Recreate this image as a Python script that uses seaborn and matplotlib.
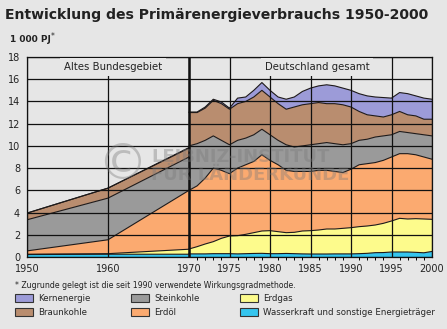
import numpy as np
import matplotlib
matplotlib.use("Agg")
import matplotlib.pyplot as plt
from matplotlib.patches import Patch
import seaborn as sns

# ---- data (1000 PJ) ----
years_west = [1950, 1960, 1970]
hydro_west = [0.22, 0.25, 0.25]
gas_west = [0.03, 0.05, 0.45]
oil_west = [0.30, 1.25, 5.30]
coal_west = [2.80, 3.75, 3.00]
lignite_west = [0.60, 0.90, 0.80]
nuclear_west = [0.00, 0.00, 0.05]

years_all = list(range(1970, 2001))
hydro_all = [0.28, 0.28, 0.28, 0.30, 0.30, 0.30, 0.28, 0.30, 0.32, 0.33,
             0.30, 0.30, 0.32, 0.30, 0.28, 0.27, 0.27, 0.27, 0.28, 0.28,
             0.28, 0.30, 0.33, 0.39, 0.40, 0.45, 0.45, 0.45, 0.42, 0.38, 0.50]
gas_all = [0.44, 0.65, 0.89, 1.08, 1.38, 1.59, 1.64, 1.74, 1.87, 2.01,
           2.07, 1.98, 1.87, 1.92, 2.06, 2.10, 2.16, 2.25, 2.24, 2.30,
           2.36, 2.43, 2.46, 2.49, 2.63, 2.79, 3.03, 2.97, 3.03, 3.04, 2.89]
oil_all = [5.28, 5.47, 5.93, 6.62, 6.12, 5.61, 6.08, 6.26, 6.41, 6.86,
           6.33, 6.02, 5.61, 5.48, 5.36, 5.33, 5.37, 5.28, 5.18, 5.02,
           5.26, 5.57, 5.61, 5.62, 5.67, 5.76, 5.82, 5.88, 5.75, 5.58, 5.41]
coal_all = [4.0, 3.8, 3.4, 2.9, 2.7, 2.6, 2.5, 2.4, 2.4, 2.3,
            2.3, 2.2, 2.3, 2.2, 2.3, 2.4, 2.4, 2.5, 2.5, 2.5,
            2.3, 2.2, 2.2, 2.3, 2.2, 2.0, 2.0, 1.9, 1.9, 2.0, 2.1]
lignite_all = [3.0, 2.8, 2.9, 3.2, 3.3, 3.2, 3.3, 3.3, 3.4, 3.5,
               3.4, 3.3, 3.2, 3.6, 3.7, 3.7, 3.7, 3.5, 3.6, 3.6,
               3.3, 2.6, 2.2, 1.9, 1.7, 1.8, 1.8, 1.6, 1.6, 1.4, 1.5]
nuclear_all = [0.05, 0.05, 0.10, 0.10, 0.15, 0.10, 0.50, 0.40, 0.60, 0.70,
               0.60, 0.60, 0.90, 0.90, 1.20, 1.40, 1.50, 1.70, 1.60, 1.50,
               1.50, 1.60, 1.70, 1.70, 1.75, 1.50, 1.70, 1.90, 1.80, 1.90, 1.80]

labels = ["Wasserkraft und sonstige Energieträger", "Erdgas", "Erdöl",
          "Steinkohle", "Braunkohle", "Kernenergie"]
colors = ["#35c5ee", "#fdfb8c", "#fbaa70", "#9a9a9a", "#b98d6f", "#9c9bd8"]
x_ticks = [1950, 1960, 1970, 1975, 1980, 1985, 1990, 1995, 2000]
y_ticks = list(range(0, 19, 2))

BG = "#e6e6e6"
sns.set_theme(style="white", rc={"axes.facecolor": BG, "figure.facecolor": BG})
plt.rcParams["font.family"] = ["DejaVu Sans"]

fig = plt.figure(figsize=(4.47, 3.29), dpi=100, facecolor=BG)
ax = fig.add_axes([27 / 447, 72 / 329, 405 / 447, 200 / 329])
ax.set_facecolor(BG)


def draw_period(years, series):
    tops = np.cumsum(np.array(series, dtype=float), axis=0)
    lower = np.zeros(len(years))
    for top, col in zip(tops, colors):
        ax.fill_between(years, lower, top, facecolor=col, edgecolor="none",
                        linewidth=0, zorder=1)
        lower = top
    for top in tops:
        sns.lineplot(x=years, y=top, color="#1e1a1a", linewidth=0.8, ax=ax,
                     zorder=2, legend=False)


draw_period(years_west, [hydro_west, gas_west, oil_west, coal_west,
                         lignite_west, nuclear_west])
draw_period(years_all, [hydro_all, gas_all, oil_all, coal_all,
                        lignite_all, nuclear_all])

ax.set_xlim(1950, 2000)
ax.set_ylim(0, 18)
ax.set_xticks(x_ticks)
ax.set_xticks(range(1970, 2001), minor=True)
ax.set_yticks(y_ticks)
ax.set_xticklabels([str(t) for t in x_ticks], fontsize=7)
ax.set_yticklabels([str(t) for t in y_ticks], fontsize=7)
ax.tick_params(axis="both", which="major", direction="out", length=3,
               width=0.8, color="black", pad=2, labelcolor="#222222")
ax.tick_params(axis="x", which="minor", direction="out", length=2,
               width=0.7, color="black", bottom=True)
ax.set_xlabel("")
ax.set_ylabel("")
ax.grid(True, which="major", color="#111111", linewidth=0.9)
ax.set_axisbelow(False)
ax.axvline(1970, color="#111111", linewidth=1.8, zorder=2.6)
for s in ax.spines.values():
    s.set_color("#111111")
    s.set_linewidth(0.9)

ax.text(1960.6, 17.1, "Altes Bundesgebiet", ha="center", va="center",
        fontsize=7.3, color="#222222", zorder=4,
        bbox=dict(facecolor=BG, edgecolor="none", pad=2.6))
ax.text(1985.8, 17.1, "Deutschland gesamt", ha="center", va="center",
        fontsize=7.3, color="#222222", zorder=4,
        bbox=dict(facecolor=BG, edgecolor="none", pad=2.6))

# watermark
ax.text(1961.7, 8.3, "©", ha="center", va="center", fontsize=36,
        color="#7a7a7a", alpha=0.38, zorder=3)
ax.text(1965.3, 8.2, "LEIBNIZ-INSTITUT\nFÜR LÄNDERKUNDE", ha="left",
        va="center", fontsize=13, fontweight="bold",
        color="#7a7a7a", alpha=0.38, zorder=3, linespacing=1.0)

fig.text(5 / 447, 1 - 15 / 329, "Entwicklung des Primärenergieverbrauchs 1950-2000",
         fontsize=10.1, fontweight="bold", color="#222222", va="center", ha="left")
fig.text(10 / 447, 1 - 40 / 329, "1 000 PJ", fontsize=6.5, fontweight="bold",
         color="#222222", va="center", ha="left")
fig.text(51 / 447, 1 - 37 / 329, "*", fontsize=5.5, color="#222222",
         va="center", ha="left")
fig.text(15 / 447, 1 - 285 / 329,
         "* Zugrunde gelegt ist die seit 1990 verwendete Wirkungsgradmethode.",
         fontsize=5.6, color="#222222", va="center", ha="left")

order = [5, 4, 3, 2, 1, 0]
handles = [Patch(facecolor=colors[i], edgecolor="#333333", linewidth=0.8,
                 label=labels[i]) for i in order]
fig.legend(handles=handles, loc="upper left", bbox_to_anchor=(14 / 447, 1 - 293 / 329),
           ncol=3, frameon=False, fontsize=6.2, handlelength=2.1,
           handleheight=1.05, handletextpad=0.6, columnspacing=4.7,
           labelspacing=0.55, borderpad=0.1, borderaxespad=0)

fig.savefig("out.png", dpi=100, facecolor=BG)
